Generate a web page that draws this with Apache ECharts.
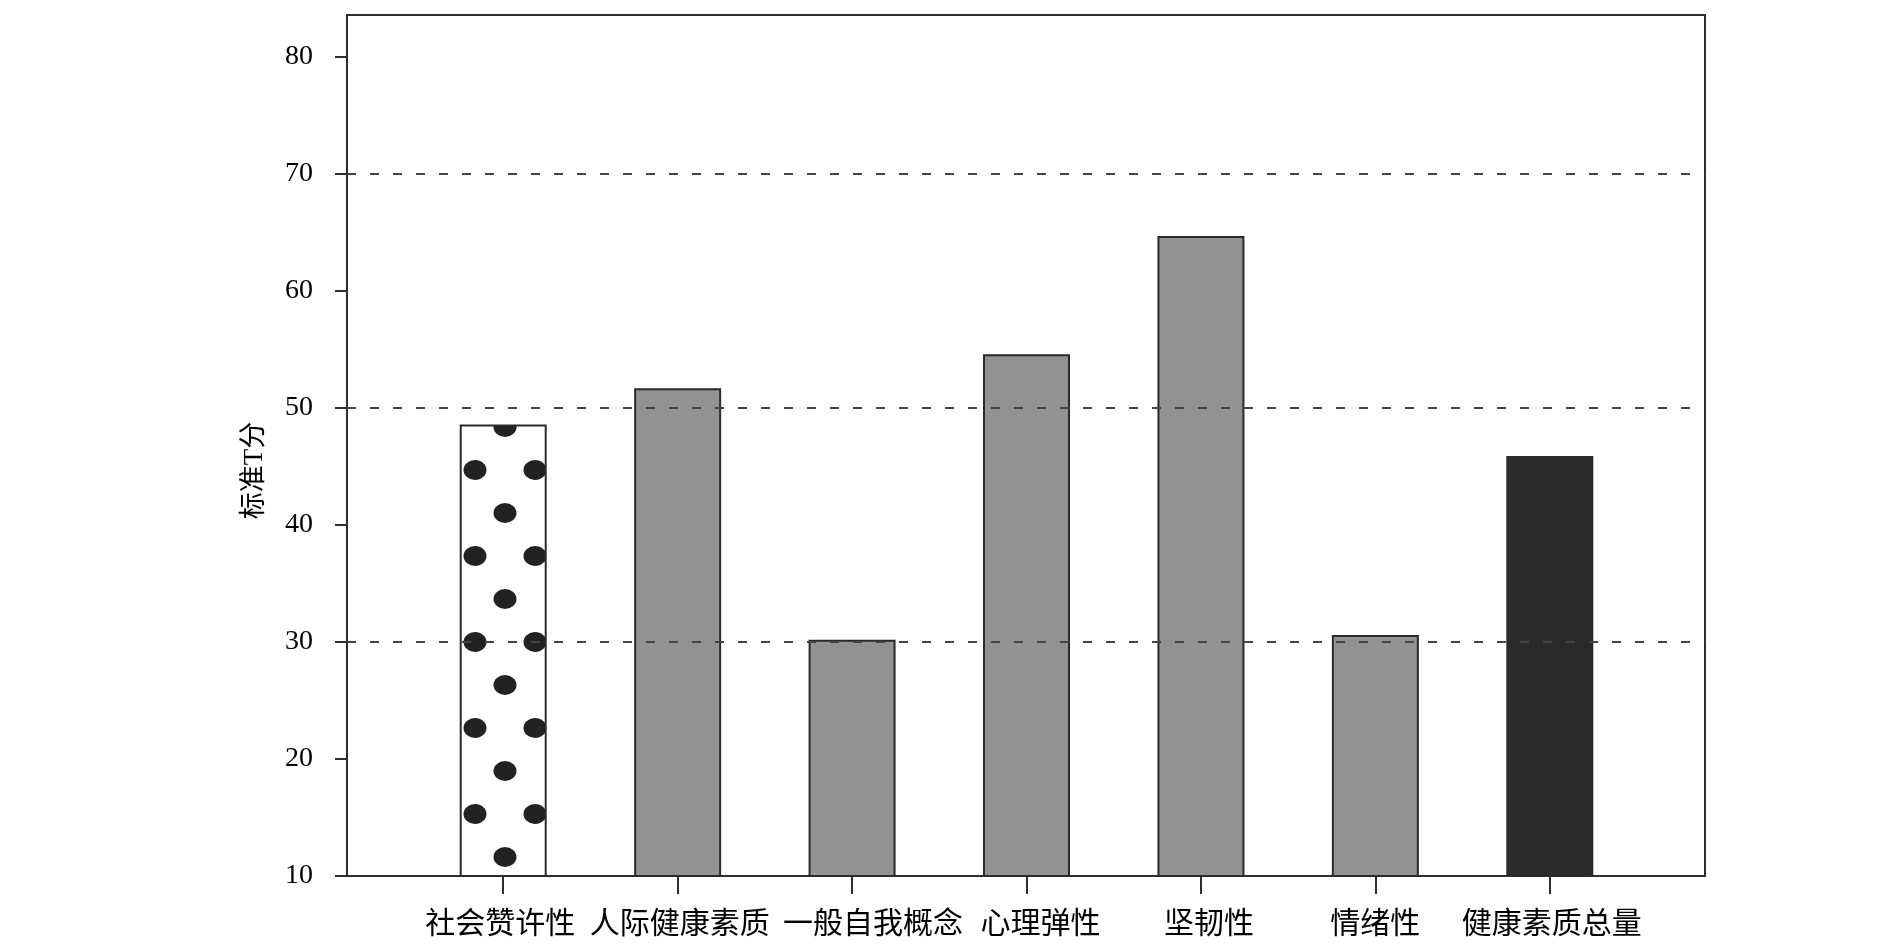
<!DOCTYPE html>
<html lang="zh">
<head>
    <meta charset="UTF-8">
    <title>标准T分</title>
    <script src="https://cdnjs.cloudflare.com/ajax/libs/echarts/6.0.0/echarts.min.js"></script>
    <style>
        html, body { margin: 0; padding: 0; background: #fff; }
        #box { width: 1890px; height: 951px; }
    </style>
</head>
<body>
<div id="box"></div>
<script>
    // data
    var categories = ['社会赞许性', '人际健康素质', '一般自我概念', '心理弹性', '坚韧性', '情绪性', '健康素质总量'];
    var values = [48.6, 51.7, 30.2, 54.6, 64.7, 30.6, 45.9];
    var yTicks = [10, 20, 30, 40, 50, 60, 70, 80];
    var refLines = [30, 50, 70];

    // fill per bar: 'dots' | grey | black
    var fills = ['dots', '#929292', '#929292', '#929292', '#929292', '#929292', '#2b2a2b'];
    // labels in the original sit a little right of their tick for some columns
    var labelShift = [-6, 4, 42, 28, 16, 0, 4];

    // dotted pattern for the first bar
    function makeDots() {
        var w = 60, h = 86;
        var c = document.createElement('canvas');
        c.width = w; c.height = h;
        var ctx = c.getContext('2d');
        ctx.fillStyle = '#fff';
        ctx.fillRect(0, 0, w, h);
        ctx.fillStyle = '#222';
        var pts = [[55, 40], [25, 83]];
        pts.forEach(function (p) {
            for (var dx = -w; dx <= w; dx += w) {
                for (var dy = -h; dy <= h; dy += h) {
                    ctx.beginPath();
                    ctx.ellipse(p[0] + dx, p[1] + dy, 11.5, 10, 0, 0, Math.PI * 2);
                    ctx.fill();
                }
            }
        });
        return c;
    }
    var dots = makeDots();

    var yMin = 10, yMax = 83.6;
    var chart = echarts.init(document.getElementById('box'));

    var barData = values.map(function (v, i) {
        var f = fills[i];
        return {
            value: v,
            itemStyle: {
                color: f === 'dots' ? { image: dots, repeat: 'repeat' } : f,
                borderColor: '#2a2a2a',
                borderWidth: 2
            }
        };
    });

    var catData = categories.map(function (c, i) {
        var s = labelShift[i];
        return {
            value: c,
            textStyle: { padding: s >= 0 ? [0, 0, 0, s] : [0, -s, 0, 0] }
        };
    });

    var option = {
        animation: false,
        grid: [
            { left: 347, right: 185, top: 15, bottom: 75, show: true, borderColor: '#2e2e2e', borderWidth: 2, backgroundColor: 'transparent' },
            { left: 416, right: 253, top: 15, bottom: 75 }
        ],
        xAxis: [
            { type: 'value', gridIndex: 0, min: 0, max: 1, show: false },
            {
                type: 'category', gridIndex: 1, data: catData,
                axisLine: { show: false },
                axisTick: { show: true, alignWithLabel: true, length: 18, lineStyle: { color: '#2e2e2e', width: 2 } },
                axisLabel: { interval: 0, margin: 31, color: '#000', fontSize: 30, fontFamily: 'Noto Sans CJK SC' }
            }
        ],
        yAxis: [
            {
                type: 'value', gridIndex: 0, min: yMin, max: yMax, interval: 10,
                name: '标准T分', nameLocation: 'middle', nameGap: 79,
                nameTextStyle: { color: '#000', fontSize: 27, fontFamily: 'Liberation Serif, Noto Sans CJK SC', padding: [0, 50, 0, 0] },
                axisLine: { show: true, lineStyle: { color: '#2e2e2e', width: 2 } },
                axisTick: { show: true, length: 12, customValues: yTicks, lineStyle: { color: '#2e2e2e', width: 2 } },
                axisLabel: { customValues: yTicks, margin: 34, color: '#000', fontSize: 28, fontFamily: 'Liberation Serif' },
                splitLine: { show: false }
            },
            { type: 'value', gridIndex: 1, min: yMin, max: yMax, show: false, splitLine: { show: false } }
        ],
        series: [
            {
                type: 'bar',
                xAxisIndex: 1,
                yAxisIndex: 1,
                barWidth: 87,
                data: barData
            },
            {
                type: 'line',
                xAxisIndex: 0,
                yAxisIndex: 0,
                data: [],
                markLine: {
                    silent: true,
                    symbol: 'none',
                    label: { show: false },
                    lineStyle: { color: '#444', width: 2, type: [9, 14] },
                    data: refLines.map(function (v) { return { yAxis: v }; })
                }
            }
        ]
    };

    chart.setOption(option);
</script>
</body>
</html>
